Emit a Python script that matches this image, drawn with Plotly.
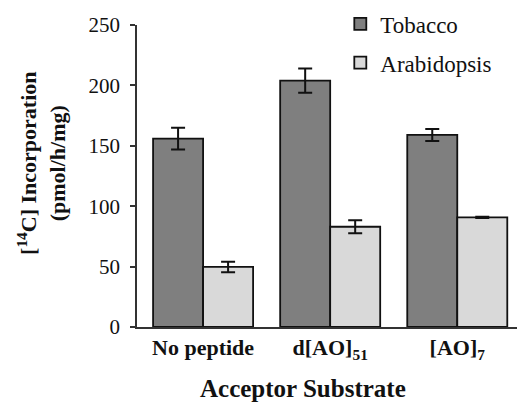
import plotly.graph_objects as go

categories = ["No peptide", "d[AO]<sub>51</sub>", "[AO]<sub>7</sub>"]
tobacco = [156, 204, 159]
tobacco_err = [9, 10, 5]
arabidopsis = [49.7, 83, 90.7]
arabidopsis_err = [4.3, 5.4, 0.5]
y_ticks = [0, 50, 100, 150, 200, 250]

FONT = "Liberation Serif"

fig = go.Figure()
fig.add_trace(go.Bar(
    name="Tobacco", x=categories, y=tobacco,
    marker=dict(color="#7f7f7f", line=dict(color="#111111", width=1.8)),
    error_y=dict(type="data", array=tobacco_err, color="#111111", thickness=2, width=7),
    legendgroup="a",
))
fig.add_trace(go.Bar(
    name="Arabidopsis", x=categories, y=arabidopsis,
    marker=dict(color="#d9d9d9", line=dict(color="#111111", width=1.8)),
    error_y=dict(type="data", array=arabidopsis_err, color="#111111", thickness=2, width=7),
    legendgroup="b",
))

fig.update_layout(
    width=517, height=404,
    margin=dict(l=137, r=0, t=25, b=76.5),
    paper_bgcolor="white", plot_bgcolor="white",
    barmode="group", bargap=0.213, bargroupgap=0,
    font=dict(family=FONT, color="#111111", size=21),
    showlegend=True,
    legend=dict(x=0.535, y=1.075, xanchor="left", yanchor="top",
                font=dict(family=FONT, size=23, color="#111111"),
                bgcolor="rgba(0,0,0,0)", tracegroupgap=6, itemwidth=30),
    xaxis=dict(range=[-0.52, 2.47], showline=True, linecolor="#333333", linewidth=1.5,
               ticks="", tickfont=dict(family=FONT, size=22, weight="bold"),
               showgrid=False, zeroline=False),
    yaxis=dict(range=[0, 250], tickvals=y_ticks, showline=True, linecolor="#333333",
               linewidth=1.5, ticks="outside", ticklen=5, tickcolor="#333333", tickwidth=1.5,
               ticklabelstandoff=6, tickfont=dict(family=FONT, size=21),
               showgrid=False, zeroline=False),
    annotations=[
        dict(text="<b>[<sup>14</sup>C] Incorporation</b><br><b>(pmol/h/mg)</b>",
             xref="paper", yref="paper", x=-0.25, y=0.54, textangle=-90,
             showarrow=False, xanchor="center", yanchor="middle",
             font=dict(family=FONT, size=22, color="#111111")),
        dict(text="<b>Acceptor Substrate</b>", xref="paper", yref="paper",
             x=0.437, y=-0.203, showarrow=False, xanchor="center", yanchor="middle",
             font=dict(family=FONT, size=25, color="#111111")),
    ],
)

fig.write_html("out.html")
